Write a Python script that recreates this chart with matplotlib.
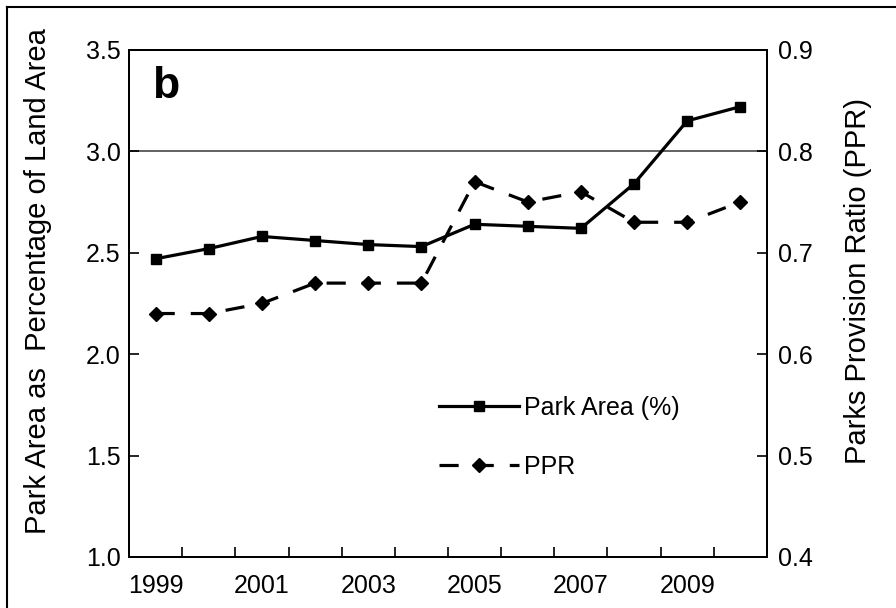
import matplotlib
matplotlib.use('Agg')
import matplotlib.pyplot as plt
from matplotlib.lines import Line2D

plt.rcParams['font.family'] = ['Liberation Sans', 'DejaVu Sans']

# ─── data ────────────────────────────────────────────────────
years     = [1999, 2000, 2001, 2002, 2003, 2004, 2005, 2006, 2007, 2008, 2009, 2010]
park_area = [2.47, 2.52, 2.58, 2.56, 2.54, 2.53, 2.64, 2.63, 2.62, 2.84, 3.15, 3.22]
ppr       = [0.64, 0.64, 0.65, 0.67, 0.67, 0.67, 0.77, 0.75, 0.76, 0.73, 0.73, 0.75]
year_labels = ['1999', '2001', '2003', '2005', '2007', '2009']

fs = 18      # tick / legend text
lfs = 21     # axis titles
fig = plt.figure(figsize=(8.96, 6.08), dpi=100)
ax = fig.add_axes([0.144, 0.084, 0.712, 0.834])
ax2 = ax.twinx()

x = list(range(len(years)))

l1, = ax.plot(x, park_area, color='black', lw=2.3, marker='s', ms=6.5,
              label='Park Area (%)', zorder=3)
l2, = ax2.plot(x, ppr, color='black', lw=2.3, ls=(0, (6, 5)), marker='D', ms=7,
               label='PPR', zorder=3)

# reference line at 3.0 %
ax.axhline(3.0, color='#555555', lw=1.3, zorder=1)

# category-style x axis: ticks at boundaries, labels on every other year
ax.set_xlim(-0.5, len(years) - 0.5)
ax.set_xticks([i + 0.5 for i in range(len(years) - 1)])
ax.set_xticklabels([])
ax.set_xticks(x[::2], minor=True)
ax.set_xticklabels(year_labels, minor=True, fontsize=fs)
ax.tick_params(axis='x', which='major', direction='in', length=7, width=1.2)
ax.tick_params(axis='x', which='minor', length=0, pad=12)

ax.set_ylim(1.0, 3.5)
ax.set_yticks([1.0, 1.5, 2.0, 2.5, 3.0, 3.5])
ax.set_yticklabels(['1.0', '1.5', '2.0', '2.5', '3.0', '3.5'], fontsize=fs)
ax.tick_params(axis='y', direction='in', length=7, width=1.2, pad=6)

ax2.set_ylim(0.4, 0.9)
ax2.set_yticks([0.4, 0.5, 0.6, 0.7, 0.8, 0.9])
ax2.set_yticklabels(['0.4', '0.5', '0.6', '0.7', '0.8', '0.9'], fontsize=fs)
ax2.tick_params(axis='y', direction='in', length=7, width=1.2, pad=8)

for a in (ax, ax2):
    for s in a.spines.values():
        s.set_linewidth(1.4)

ax.set_ylabel('Park Area as  Percentage of Land Area', fontsize=lfs)
ax.yaxis.set_label_coords(-0.12, 0.544)
ax2.set_ylabel('Parks Provision Ratio (PPR)', fontsize=lfs)
ax2.yaxis.set_label_coords(1.12, 0.545)

ax.text(0.036, 0.968, 'b', transform=ax.transAxes, fontsize=32,
        fontweight='bold', va='top', ha='left')

ax2.legend([l1, l2], ['Park Area (%)', 'PPR'], loc='upper left',
           bbox_to_anchor=(0.45, 0.362), frameon=False, fontsize=fs,
           handlelength=3.2, handletextpad=0.2, labelspacing=1.4)

# figure border (left and top edges)
fig.add_artist(Line2D([0.008, 0.008], [0.0, 0.989], color='black', lw=1.5,
                      transform=fig.transFigure))
fig.add_artist(Line2D([0.008, 1.0], [0.989, 0.989], color='black', lw=1.5,
                      transform=fig.transFigure))

fig.savefig('out.png', dpi=100)
